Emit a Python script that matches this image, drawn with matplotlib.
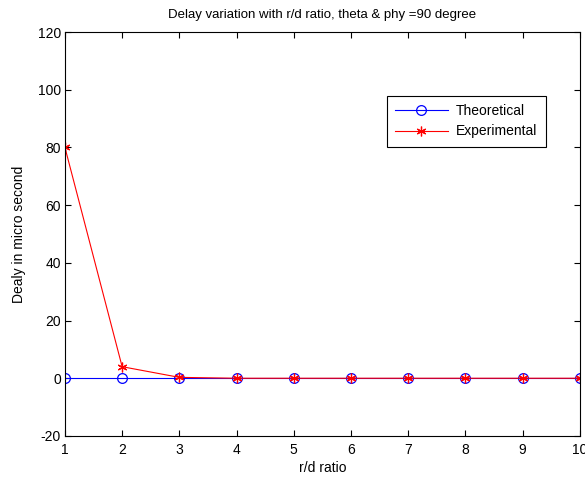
import matplotlib
matplotlib.use("Agg")
import matplotlib.pyplot as plt

plt.rcParams['font.family'] = ['Liberation Sans', 'DejaVu Sans']
plt.rcParams['axes.unicode_minus'] = False

rd_ratio = [1, 2, 3, 4, 5, 6, 7, 8, 9, 10]
theoretical = [0, 0, 0, 0, 0, 0, 0, 0, 0, 0]
experimental = [80, 4, 0.3, 0, 0, 0, 0, 0, 0, 0]

fig = plt.figure(figsize=(5.85, 4.78), dpi=100)
ax = fig.add_axes([0.111, 0.088, 0.880, 0.845])

ax.plot(rd_ratio, theoretical, color='b', lw=0.8, marker='o', ms=7,
        mfc='none', mec='b', mew=0.9, label='Theoretical')
ax.plot(rd_ratio, experimental, color='r', lw=0.8, marker=(6, 2, 0), ms=7,
        mec='r', mew=0.9, label='Experimental')

ax.set_xlim(1, 10)
ax.set_ylim(-20, 120)
ax.set_xticks(rd_ratio)
ax.set_yticks(range(-20, 121, 20))
ax.tick_params(direction='in', length=4, width=0.8, labelsize=10, top=True, right=True)
ax.tick_params(axis='x', pad=5)
ax.tick_params(axis='y', pad=3)
for s in ax.spines.values():
    s.set_linewidth(0.8)

ax.set_title('Delay variation with r/d ratio, theta & phy =90 degree', fontsize=9.5, pad=10)
ax.set_xlabel('r/d ratio', fontsize=10, labelpad=3)
ax.set_ylabel('Dealy in micro second', fontsize=10, labelpad=8)

leg = ax.legend(loc='upper left', bbox_to_anchor=(0.625, 0.842), fontsize=10,
                fancybox=False, framealpha=1, edgecolor='k', borderpad=0.6,
                borderaxespad=0, handlelength=3.8, handletextpad=0.6,
                labelspacing=0.45)
leg.get_frame().set_linewidth(0.8)

fig.savefig('out.png', dpi=100)
